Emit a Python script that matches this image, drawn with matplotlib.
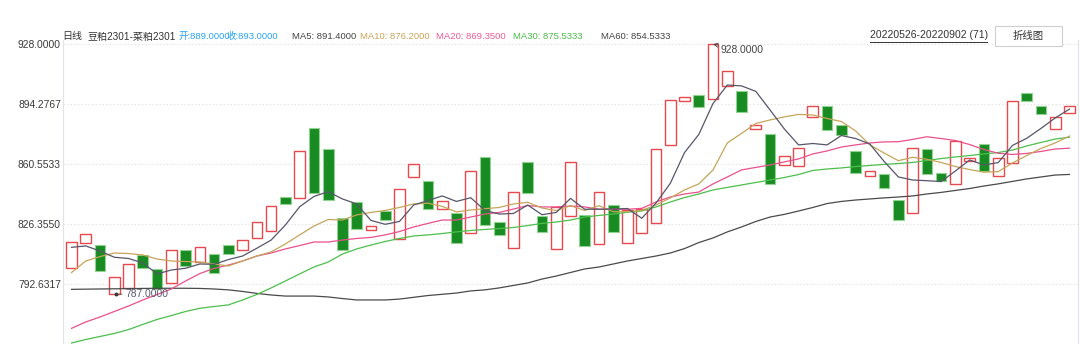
import matplotlib
matplotlib.use("Agg")
import matplotlib.pyplot as plt
from matplotlib.patches import Rectangle
from matplotlib.lines import Line2D

plt.rcParams['font.family'] = ['Liberation Sans', 'Noto Sans CJK SC', 'DejaVu Sans']

# ---------------- data ----------------
opens = [801.9, 816.0, 814.7, 787.0, 790.6, 808.9, 801.0, 793.1, 811.9, 805.3,
         809.5, 814.7, 812.1, 818.8, 822.8, 841.8, 841.1, 880.6, 868.7, 829.8,
         838.8, 823.0, 833.7, 817.9, 853.1, 850.7, 834.9, 832.8, 821.3, 864.6,
         827.5, 813.0, 861.6, 830.9, 812.3, 831.1, 831.8, 815.1, 837.5, 816.0,
         821.3, 827.0, 871.0, 895.8, 899.6, 897.0, 904.5, 901.5, 880.0, 877.5,
         859.9, 859.1, 887.1, 893.3, 882.6, 867.8, 853.7, 854.6, 840.0, 833.0,
         868.7, 855.5, 849.0, 862.3, 871.6, 853.8, 860.8, 900.5, 893.3, 880.0,
         889.0]
closes = [816.6, 820.8, 800.0, 796.5, 803.8, 801.9, 789.7, 811.7, 803.0, 813.6,
          798.8, 809.6, 817.4, 827.5, 836.6, 837.7, 867.6, 843.9, 840.0, 811.9,
          823.9, 825.6, 828.7, 846.3, 860.6, 834.9, 839.7, 815.9, 856.3, 825.8,
          820.2, 844.5, 843.9, 821.9, 836.0, 861.4, 814.0, 844.5, 821.9, 834.5,
          835.2, 868.7, 896.6, 898.4, 892.6, 928.0, 913.1, 889.8, 882.3, 849.0,
          865.1, 869.6, 893.2, 879.6, 876.8, 855.5, 856.3, 846.7, 828.7, 869.6,
          854.6, 850.7, 873.4, 863.7, 856.5, 863.8, 895.8, 895.8, 888.7, 886.8,
          893.0]

ma5 = [813.4, 814.2, 811.3, 807.8, 807.1, 804.6, 798.4, 800.6, 801.6, 804.0,
       803.8, 806.5, 808.5, 812.9, 817.5, 826.0, 836.3, 842.1, 844.8, 840.7,
       837.9, 828.6, 826.4, 828.0, 837.3, 839.8, 842.4, 839.3, 841.4, 834.2,
       832.2, 832.5, 837.3, 831.8, 833.1, 841.0, 834.9, 834.9, 835.0, 835.3,
       829.8, 838.4, 849.5, 866.9, 877.1, 894.6, 905.0, 904.5, 901.4, 890.9,
       880.2, 871.2, 872.0, 871.2, 876.5, 874.8, 871.7, 861.9, 853.1, 851.4,
       851.0, 850.5, 856.5, 862.7, 859.9, 861.2, 870.9, 874.9, 880.5, 886.4,
       891.4]
ma10 = [799.2, 805.7, 808.2, 810.2, 809.9, 809.1, 806.8, 805.7, 805.4, 805.1,
        804.0, 802.9, 805.7, 808.5, 810.8, 815.3, 820.4, 825.4, 829.1, 828.8,
        831.7, 833.1, 834.2, 835.9, 837.9, 838.3, 836.5, 833.4, 834.5, 835.2,
        835.9, 837.9, 838.8, 835.6, 834.1, 836.9, 834.2, 836.9, 833.5, 833.5,
        834.2, 837.3, 841.3, 845.8, 849.2, 857.1, 872.3, 877.7, 883.3, 885.3,
        887.0, 888.4, 888.1, 886.1, 884.4, 879.1, 871.2, 866.6, 862.3, 864.2,
        863.1, 861.3, 859.0, 857.3, 855.8, 856.1, 861.0, 865.2, 869.2, 872.3,
        876.2]
ma20 = [767.7, 771.3, 774.1, 777.2, 780.3, 783.7, 786.8, 789.9, 794.4, 798.6,
        801.5, 803.4, 805.7, 808.5, 810.2, 812.5, 814.4, 816.4, 816.4, 817.5,
        818.4, 819.0, 820.4, 822.3, 824.9, 826.9, 828.8, 828.8, 830.5, 832.2,
        833.1, 835.0, 837.0, 836.2, 836.2, 836.7, 836.2, 834.9, 834.9, 834.9,
        835.4, 839.0, 841.8, 843.5, 844.6, 849.2, 853.1, 857.1, 858.5, 859.9,
        861.6, 863.3, 866.1, 867.8, 870.0, 871.2, 872.3, 872.9, 873.0, 874.3,
        875.8, 874.8, 873.7, 871.4, 868.6, 866.5, 865.8, 866.4, 867.5, 868.9,
        869.35]
ma30 = [759.4, 761.4, 763.1, 764.8, 767.0, 769.9, 772.7, 774.9, 777.2, 779.0,
        780.0, 780.9, 783.7, 786.8, 790.5, 794.4, 798.4, 802.3, 805.1, 809.6,
        812.5, 814.7, 816.7, 818.4, 819.8, 820.4, 821.2, 822.1, 822.9, 823.5,
        824.0, 824.6, 825.7, 826.9, 827.7, 828.8, 830.5, 831.4, 832.2, 833.2,
        833.9, 836.2, 839.0, 841.5, 843.5, 845.8, 847.2, 848.6, 850.0, 851.4,
        852.8, 854.5, 856.8, 857.6, 858.2, 859.0, 859.6, 860.2, 860.7, 861.3,
        862.4, 863.5, 864.4, 865.2, 866.1, 866.9, 868.3, 870.6, 872.6, 874.5,
        875.5333]
ma60 = [789.7, 789.8, 789.9, 790.0, 790.1, 790.2, 790.3, 790.3, 790.3, 790.2,
        789.9, 789.4, 788.5, 787.4, 786.5, 785.9, 785.9, 785.9, 785.4, 784.5,
        783.7, 783.7, 783.7, 784.2, 785.2, 786.2, 786.9, 787.6, 788.8, 789.4,
        790.5, 791.9, 793.3, 795.5, 797.2, 799.2, 801.2, 802.3, 804.0, 805.7,
        807.1, 808.5, 810.2, 812.7, 816.1, 818.7, 822.1, 824.9, 828.0, 830.5,
        832.0, 833.9, 835.9, 838.1, 839.3, 840.1, 840.7, 841.3, 841.8, 842.4,
        843.5, 844.4, 845.5, 846.6, 848.0, 849.2, 850.6, 852.0, 853.1, 854.2,
        854.5333]

ytick_vals = [928.0, 894.2767, 860.5533, 826.355, 792.6317]
ytick_labels = ["928.0000", "894.2767", "860.5533", "826.3550", "792.6317"]

title_parts = [
    ("日线", 62, "#333333", 7.2),
    ("豆粕2301-菜粕2301", 87, "#333333", 7.2),
    ("开:889.0000", 178.5, "#2aa3f0", 6.8),
    ("收:893.0000", 226.5, "#2aa3f0", 6.8),
    ("MA5: 891.4000", 292.5, "#444444", 6.8),
    ("MA10: 876.2000", 360.5, "#c8a458", 6.8),
    ("MA20: 869.3500", 436.5, "#ee5b96", 6.8),
    ("MA30: 875.5333", 513, "#4cbb4c", 6.8),
    ("MA60: 854.5333", 601, "#444444", 6.8),
]
date_range = "20220526-20220902 (71)"
button_text = "折线图"
high_label = "928.0000"
low_label = "787.0000"

# ---------------- figure ----------------
W, H = 1080, 344
fig = plt.figure(figsize=(W / 100, H / 100), dpi=100)
ax_left, ax_right, ax_top = 63, 1078, 40
ax = fig.add_axes([ax_left / W, 0, (ax_right - ax_left) / W, 1 - ax_top / H])

n = len(opens)
ax.set_xlim(-0.6, n - 0.4)
ax.set_ylim(758.85, 930.4)

for s in ["top", "bottom"]:
    ax.spines[s].set_visible(False)
for s in ["left", "right"]:
    ax.spines[s].set_color("#dfe3ea")
    ax.spines[s].set_linewidth(0.8)

ax.set_xticks([])
ax.set_yticks(ytick_vals)
ax.set_yticklabels(ytick_labels, fontsize=7.4, color="#3a3a3a")
ax.tick_params(axis="y", length=0, pad=1.5)
ax.grid(axis="y", color="#e2e2e2", linestyle=(0, (1.2, 2.0)), linewidth=0.8)
ax.set_axisbelow(True)

bw = 0.75
for i, (o, c) in enumerate(zip(opens, closes)):
    lo, hi = min(o, c), max(o, c)
    if c >= o:
        r = Rectangle((i - bw / 2, lo), bw, hi - lo, facecolor="white",
                      edgecolor="#e9494e", linewidth=1.0, zorder=2)
    else:
        r = Rectangle((i - bw / 2, lo), bw, hi - lo, facecolor="#188c22",
                      edgecolor="#92d392", linewidth=0.8, zorder=2)
    ax.add_patch(r)

xs = list(range(n))
ax.plot(xs, ma60, color="#4a4a4a", lw=0.9, zorder=3)
ax.plot(xs, ma30, color="#4cbf4c", lw=0.9, zorder=3)
ax.plot(xs, ma20, color="#e9508c", lw=0.9, zorder=3)
ax.plot(xs, ma10, color="#c6a55a", lw=0.9, zorder=3)
ax.plot(xs, ma5, color="#56566a", lw=0.9, zorder=3)

# high / low annotations
hi_i = closes.index(max(closes))
ax.annotate(high_label, xy=(hi_i, max(closes)), xytext=(5.5, -3.8),
            textcoords="offset points", fontsize=7.4, color="#444444",
            va="center", ha="left",
            arrowprops=dict(arrowstyle="->", color="#444444", lw=0.6,
                            shrinkA=0, shrinkB=0), zorder=5)
lo_i = opens.index(min(opens))
ax.plot([lo_i + 0.14], [min(opens)], marker="o", ms=1.8, color="#333333", zorder=5)
ax.annotate(low_label, xy=(lo_i + 0.14, min(opens)), xytext=(6.2, 0),
            textcoords="offset points", fontsize=7.4, color="#555a70",
            va="center", ha="left",
            arrowprops=dict(arrowstyle="-", color="#555555", lw=0.6,
                            shrinkA=0, shrinkB=0), zorder=5)

# header texts
def fx(x):
    return x / W

def fy(y):
    return 1 - y / H

for txt, x, col, fs in title_parts:
    fig.text(fx(x), fy(36.5), txt, fontsize=fs, color=col, va="center", ha="left")

fig.text(fx(870), fy(35.5), date_range, fontsize=7.5, color="#333333",
         va="center", ha="left")
fig.add_artist(Line2D([fx(870), fx(987)], [fy(41.5), fy(41.5)],
                      color="#333333", lw=0.7))
fig.add_artist(Rectangle((fx(995), fy(46)), fx(1062) - fx(995), fy(26) - fy(46),
                         facecolor="white", edgecolor="#cfcfcf", lw=0.8))
fig.text(fx(1028.5), fy(36), button_text, fontsize=7.5, color="#333333",
         va="center", ha="center")

fig.savefig("out.png", dpi=100)
